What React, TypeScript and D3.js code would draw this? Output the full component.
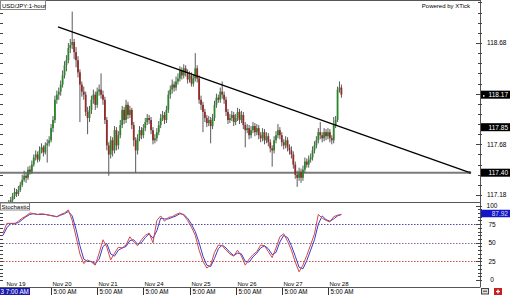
import React from "react";
import * as d3 from "d3";

const firstOpen = 116.99;
const closes = [
  117.01, 117.05, 117.07, 117.09, 117.13, 117.17, 117.21, 117.19, 117.23, 117.28,
  117.33, 117.37, 117.35, 117.43, 117.41, 117.48, 117.55, 117.58, 117.53, 117.62,
  117.65, 117.60, 117.67, 117.69, 117.72, 117.84, 117.92, 118.12, 118.17, 118.20,
  118.27, 118.36, 118.46, 118.51, 118.63, 118.66, 118.69, 118.59, 118.51, 118.39,
  118.27, 118.20, 118.17, 118.00, 117.94, 118.02, 118.12, 118.17, 118.07, 118.20,
  118.22, 118.17, 118.12, 117.92, 117.67, 117.58, 117.72, 117.62, 117.82, 117.67,
  117.77, 117.87, 118.02, 117.92, 118.07, 117.97, 118.02, 117.87, 117.72, 117.62,
  117.74, 117.82, 117.77, 117.84, 117.90, 117.94, 117.92, 117.82, 117.72, 117.74,
  117.80, 117.87, 117.94, 117.97, 117.92, 118.02, 118.17, 118.22, 118.27, 118.24,
  118.30, 118.33, 118.41, 118.36, 118.43, 118.39, 118.32, 118.36, 118.28, 118.33,
  118.43, 118.33, 118.12, 118.07, 118.00, 117.94, 117.89, 117.92, 117.86, 117.94,
  118.07, 118.14, 118.12, 118.20, 118.17, 118.12, 118.00, 117.92, 117.94, 117.97,
  117.90, 117.94, 118.00, 117.92, 117.97, 117.87, 117.82, 117.84, 117.77, 117.82,
  117.86, 117.80, 117.84, 117.77, 117.74, 117.80, 117.72, 117.76, 117.70, 117.64,
  117.62, 117.72, 117.77, 117.82, 117.77, 117.70, 117.67, 117.72, 117.65, 117.62,
  117.58, 117.48, 117.38, 117.35, 117.41, 117.35, 117.43, 117.51, 117.48, 117.53,
  117.55, 117.62, 117.67, 117.72, 117.80, 117.77, 117.74, 117.80, 117.76, 117.80,
  117.74, 117.72, 117.87, 117.92, 118.22, 118.24, 118.17,
];
const highs = [
  117.04, 117.08, 117.10, 117.13, 117.16, 117.20, 117.25, 117.24, 117.27, 117.31,
  117.38, 117.42, 117.40, 117.46, 117.47, 117.52, 117.58, 117.62, 117.61, 117.66,
  117.69, 117.67, 117.70, 117.73, 117.76, 117.88, 117.96, 118.16, 118.21, 118.24,
  118.31, 118.41, 118.50, 118.56, 118.68, 118.72, 118.99, 118.72, 118.64, 118.55,
  118.42, 118.30, 118.25, 118.20, 118.05, 118.06, 118.16, 118.22, 118.20, 118.24,
  118.27, 118.38, 118.21, 118.15, 117.95, 117.70, 117.76, 117.75, 117.86, 117.85,
  117.81, 117.92, 118.06, 118.05, 118.12, 118.10, 118.06, 118.04, 117.90, 117.75,
  117.78, 117.86, 117.85, 117.88, 117.94, 117.98, 117.97, 117.95, 117.85, 117.78,
  117.84, 117.91, 117.98, 118.01, 118.00, 118.06, 118.21, 118.26, 118.32, 118.30,
  118.35, 118.38, 118.45, 118.44, 118.47, 118.46, 118.42, 118.40, 118.39, 118.37,
  118.58, 118.46, 118.36, 118.16, 118.10, 118.03, 117.97, 117.96, 117.95, 117.98,
  118.11, 118.18, 118.17, 118.24, 118.30, 118.20, 118.15, 118.03, 117.98, 118.01,
  118.00, 117.98, 118.04, 118.03, 118.01, 118.00, 117.90, 117.88, 117.87, 117.86,
  117.90, 117.89, 117.88, 117.87, 117.80, 117.84, 117.83, 117.80, 117.79, 117.73,
  117.67, 117.76, 117.81, 117.88, 117.85, 117.80, 117.73, 117.76, 117.75, 117.68,
  117.66, 117.61, 117.51, 117.42, 117.45, 117.44, 117.47, 117.55, 117.54, 117.57,
  117.59, 117.66, 117.71, 117.76, 117.84, 117.90, 117.80, 117.84, 117.83, 117.84,
  117.83, 117.77, 117.95, 117.96, 118.25, 118.30, 118.27,
];
const lows = [
  116.96, 116.99, 117.03, 117.05, 117.07, 117.11, 117.14, 117.16, 117.17, 117.21,
  117.26, 117.31, 117.30, 117.33, 117.38, 117.39, 117.46, 117.52, 117.50, 117.51,
  117.59, 117.56, 117.58, 117.50, 117.66, 117.70, 117.80, 117.89, 118.08, 118.12,
  118.16, 118.24, 118.33, 118.40, 118.48, 118.58, 118.62, 118.52, 118.44, 118.34,
  117.90, 118.15, 118.12, 117.96, 117.78, 117.90, 117.98, 118.08, 118.02, 118.04,
  118.16, 118.13, 118.07, 117.88, 117.62, 117.37, 117.54, 117.56, 117.59, 117.62,
  117.63, 117.74, 117.84, 117.88, 117.89, 117.93, 117.94, 117.83, 117.66, 117.40,
  117.58, 117.71, 117.73, 117.74, 117.81, 117.87, 117.88, 117.78, 117.68, 117.69,
  117.71, 117.77, 117.84, 117.91, 117.88, 117.89, 117.99, 118.13, 118.18, 118.20,
  118.21, 118.27, 118.30, 118.32, 118.33, 118.35, 118.28, 118.29, 118.25, 118.25,
  118.30, 118.29, 118.08, 118.02, 117.80, 117.90, 117.85, 117.86, 117.69, 117.83,
  117.91, 118.04, 118.09, 118.09, 118.13, 118.08, 117.96, 117.88, 117.89, 117.91,
  117.86, 117.87, 117.91, 117.88, 117.89, 117.83, 117.65, 117.79, 117.73, 117.74,
  117.79, 117.76, 117.77, 117.73, 117.70, 117.71, 117.68, 117.69, 117.66, 117.60,
  117.46, 117.59, 117.69, 117.74, 117.73, 117.66, 117.63, 117.64, 117.61, 117.58,
  117.54, 117.44, 117.34, 117.26, 117.32, 117.30, 117.32, 117.40, 117.45, 117.45,
  117.50, 117.52, 117.59, 117.64, 117.69, 117.73, 117.70, 117.71, 117.72, 117.73,
  117.70, 117.68, 117.69, 117.84, 117.90, 118.19, 118.14,
];
// Stochastic, one value every 2 bars
const stochK = [
  63, 76, 76, 75, 79, 83, 86, 90, 89, 88, 89, 88, 87, 86, 85, 88, 90, 94, 80, 58,
  35, 22, 27, 24, 20, 36, 54, 44, 27, 36, 44, 43, 47, 58, 51, 46, 54, 60, 63, 50,
  80, 86, 79, 84, 85, 88, 90, 87, 80, 71, 60, 40, 25, 16, 20, 37, 47, 46, 40, 35,
  32, 40, 32, 20, 28, 34, 38, 47, 46, 38, 30, 43, 58, 62, 52, 40, 24, 11, 20, 33,
  47, 62, 88, 83, 80, 78, 85, 87, 88,
];
const stochD = [
  60, 70, 76, 76, 77, 81, 85, 88, 89, 88, 88, 88, 87, 86, 85, 87, 89, 92, 86, 68,
  46, 28, 25, 25, 22, 28, 45, 49, 35, 32, 40, 43, 45, 53, 54, 48, 50, 57, 62, 56,
  66, 83, 82, 82, 84, 86, 89, 88, 83, 75, 65, 50, 32, 20, 18, 29, 42, 47, 43, 37,
  33, 36, 35, 25, 24, 31, 36, 43, 46, 42, 34, 37, 51, 60, 57, 46, 32, 17, 15, 26,
  40, 54, 75, 86, 81, 79, 82, 86, 88,
];
const stochStep = 2;
const stochLast = 87.92;
const dayLabels = ["Nov 19", "Nov 20", "Nov 21", "Nov 24", "Nov 25", "Nov 26", "Nov 27", "Nov 28"];
const dayTickIndex = [1, 25, 49, 73, 97, 121, 145, 169];
const timeLabel = "5:00 AM";
const cursorLabel = "3 7:00 AM";
const priceLabeled = [118.68, 117.68, 117.18];
const stochLabels = [100, 75, 50, 25, 0];
const stochLevels = [75, 50, 25];
const stochLevelColors = ["#4a4aa8", "#8a6a9a", "#cc4a4a"];
const trendStart: [number, number] = [28.6, 118.84];
const trendEnd: [number, number] = [242.8, 117.4];
const supportLevel = 117.4;

const FONT = "'Liberation Sans', Arial, sans-serif";

export default function App() {
  const W = 510, H = 295;
  const axisX = 480.5;
  const n = closes.length;
  const x = d3.scaleLinear().domain([0, 176]).range([3, 341.4]);
  const y = d3.scaleLinear().domain([117.18, 118.68]).range([195, 43]);
  const ys = d3.scaleLinear().domain([0, 100]).range([280, 205.5]);
  const trend = d3.scaleLinear().domain([trendStart[0], trendEnd[0]]).range([trendStart[1], trendEnd[1]]);

  const lastClose = closes[n - 1];
  const trendLast = trend(n - 1);

  const minorPrice = d3.range(-20, 6).map((k) => 118.68 + k * 0.1).filter((v) => y(v) > 1 && y(v) < 201);
  const stochTicks = d3.range(0, 101, 5);

  const lineK = d3.line<number>().x((_, k) => x(k * stochStep)).y((v) => ys(v));

  const candles = closes.map((c, i) => {
    const o = i === 0 ? firstOpen : closes[i - 1];
    const up = c >= o;
    const cx = x(i);
    const top = y(Math.max(o, c));
    const bot = y(Math.min(o, c));
    return (
      <g key={i}>
        <line x1={cx} x2={cx} y1={y(highs[i])} y2={y(lows[i])} stroke="#5a5a5a" strokeWidth={1} />
        <rect x={cx - 0.9} y={top} width={1.8} height={Math.max(1, bot - top)} fill={up ? "#2b862b" : "#952a2a"} />
      </g>
    );
  });

  const boxLabel = (v: number, text: string, bg: string, fg: string, h = 8) => (
    <g>
      <rect x={481} y={v - h / 2} width={29} height={h} fill={bg} />
      <text x={508} y={v + 2.4} fontSize={6.5} fill={fg} textAnchor="end" fontFamily={FONT}>{text}</text>
    </g>
  );

  return (
    <svg width={W} height={H} style={{ position: "fixed", left: 0, top: 0, background: "#fff" }}>
      <defs>
        <clipPath id="pclip"><rect x={0} y={0} width={480} height={202} /></clipPath>
        <clipPath id="sclip"><rect x={0} y={203} width={480} height={84} /></clipPath>
      </defs>
      <rect x={0} y={0} width={W} height={H} fill="#fff" />

      {/* price panel */}
      <g clipPath="url(#pclip)">
        <line x1={0} x2={x(trendEnd[0])} y1={y(supportLevel)} y2={y(supportLevel)} stroke="#7a7a7a" strokeWidth={2} />
        {candles}
        <line x1={x(trendStart[0])} y1={y(trendStart[1])} x2={x(trendEnd[0])} y2={y(trendEnd[1])} stroke="#000" strokeWidth={1.3} />
        <circle cx={x(trendEnd[0])} cy={y(trendEnd[1])} r={1.4} fill="#333" />
      </g>

      {/* frame lines */}
      <line x1={0} x2={axisX} y1={0.5} y2={0.5} stroke="#555" />
      <line x1={axisX} x2={axisX} y1={0} y2={287} stroke="#555" />
      <line x1={0} x2={axisX} y1={202.5} y2={202.5} stroke="#555" />
      <line x1={0} x2={axisX} y1={287.5} y2={287.5} stroke="#555" />

      {/* price ticks */}
      {minorPrice.map((v, i) => {
        const major = priceLabeled.some((p) => Math.abs(p - v) < 1e-6) || Math.abs(v - 118.18) < 1e-6;
        return (
          <g key={i}>
            <line x1={major ? 476 : 478} x2={482} y1={Math.round(y(v)) + 0.5} y2={Math.round(y(v)) + 0.5} stroke="#444" />
            <line x1={0} x2={3} y1={Math.round(y(v)) + 0.5} y2={Math.round(y(v)) + 0.5} stroke="#444" />
          </g>
        );
      })}
      {priceLabeled.map((v) => (
        <text key={v} x={487} y={y(v) + 2.4} fontSize={6.5} fontFamily={FONT} fill="#000">{v.toFixed(2)}</text>
      ))}
      {boxLabel(y(lastClose), lastClose.toFixed(2), "#000", "#fff")}
      <rect x={483} y={y(lastClose) + 0.5} width={1.5} height={1.5} fill="#fff" />
      {boxLabel(y(trendLast), trendLast.toFixed(2), "#000", "#fff")}
      {boxLabel(y(supportLevel), supportLevel.toFixed(2), "#000", "#fff")}

      {/* title boxes */}
      <rect x={0.5} y={0.5} width={45} height={9} fill="#fff" stroke="#888" />
      <text x={2} y={7.5} fontSize={6} fontFamily={FONT} fill="#000">USD/JPY:1-hour</text>
      <text x={470} y={8} fontSize={6} fontFamily={FONT} fill="#000" textAnchor="end">Powered by XTick</text>

      {/* stochastic panel */}
      <g clipPath="url(#sclip)">
        {stochLevels.map((lv, i) => (
          <line key={lv} x1={0} x2={480} y1={Math.round(ys(lv)) + 0.5} y2={Math.round(ys(lv)) + 0.5} stroke={stochLevelColors[i]} strokeDasharray="1.5,1.5" />
        ))}
        <path d={lineK(stochD) || ""} fill="none" stroke="#3a3acc" strokeWidth={1} />
        <path d={lineK(stochK) || ""} fill="none" stroke="#d04848" strokeWidth={1} />
      </g>
      {stochTicks.map((v) => (
        <g key={v}>
          <line x1={v % 25 === 0 ? 476 : 478} x2={482} y1={Math.round(ys(v)) + 0.5} y2={Math.round(ys(v)) + 0.5} stroke="#444" />
          <line x1={0} x2={3} y1={Math.round(ys(v)) + 0.5} y2={Math.round(ys(v)) + 0.5} stroke="#444" />
        </g>
      ))}
      {stochLabels.map((v) => (
        <text key={v} x={492} y={ys(v) + 2.4} fontSize={6.5} fontFamily={FONT} fill="#000" textAnchor="middle">{v}</text>
      ))}
      {boxLabel(ys(stochLast) - 1, stochLast.toFixed(2), "#1414c8", "#dde", 7.5)}
      <rect x={0.5} y={203} width={29} height={7} fill="#fff" stroke="#888" />
      <text x={1.5} y={209} fontSize={6} fontFamily={FONT} fill="#000">Stochastic</text>

      {/* x axis */}
      {dayTickIndex.map((di, k) => {
        const tx = Math.round(x(di)) + 0.5;
        return (
          <g key={k}>
            <text x={Math.max(2.5, tx + 1)} y={285.5} fontSize={6} fontFamily={FONT} fill="#000">{dayLabels[k]}</text>
            {k > 0 && <line x1={tx} x2={tx} y1={288} y2={295} stroke="#333" />}
            {k > 0 && <text x={tx + 2} y={294} fontSize={6.3} fontFamily={FONT} fill="#000">{timeLabel}</text>}
          </g>
        );
      })}
      <rect x={0} y={288} width={30} height={7} fill="#1a1ab0" />
      <text x={0.5} y={294} fontSize={6.3} fontFamily={FONT} fill="#fff">{cursorLabel}</text>

      {/* bottom-right icons */}
      <rect x={481.5} y={288.5} width={7} height={5.5} fill="#ddd" stroke="#444" />
      <line x1={483} x2={487} y1={291.2} y2={291.2} stroke="#444" />
      <rect x={494} y={288} width={8} height={7} fill="#c42020" />
      <line x1={496} x2={500} y1={291.5} y2={291.5} stroke="#fff" strokeWidth={1.2} />
      <line x1={498} x2={498} y1={289.5} y2={293.5} stroke="#fff" strokeWidth={1.2} />
    </svg>
  );
}
